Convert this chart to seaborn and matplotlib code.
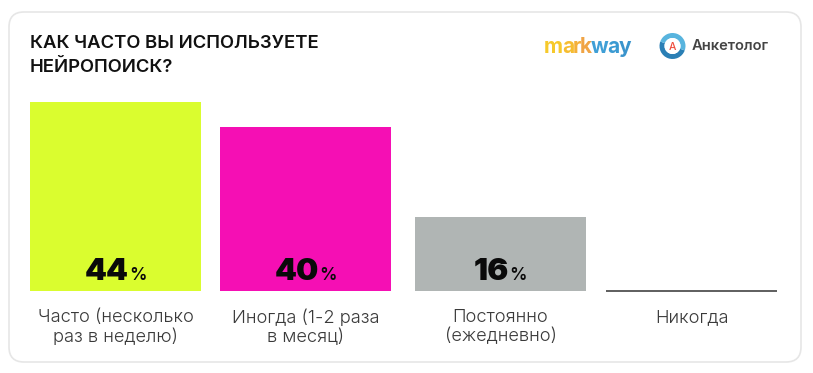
import matplotlib
matplotlib.use('Agg')
import matplotlib.pyplot as plt
import pandas as pd
import seaborn as sns
from matplotlib.patches import Circle, FancyBboxPatch, Wedge

categories = ['Часто (несколько\nраз в неделю)', 'Иногда (1-2 раза\nв месяц)',
              'Постоянно\n(ежедневно)', 'Никогда']
# heights as drawn in the picture, they do not follow the printed numbers exactly
bar_heights = [44, 38.2, 17.3, 0]
labels = ['44', '40', '16', '']
colors = ['#dafd2f', '#f50fb4', '#b0b5b4', '#ffffff']
title = 'КАК ЧАСТО ВЫ ИСПОЛЬЗУЕТЕ\nНЕЙРОПОИСК?'
logo_letters = ['m', 'a', 'r', 'k', 'w', 'a', 'y']
logo_colors = ['#f6c92b', '#f6bd31', '#f4b03a', '#f0a445', '#3f9fd6', '#3a9ad2', '#3a94cc']

W, H = 813, 373
FONT = 'Inter'

sns.set_style('white')
plt.rcParams['font.family'] = [FONT, 'DejaVu Sans']

df = pd.DataFrame({'category': categories, 'height': bar_heights})

fig = plt.figure(figsize=(W / 100, H / 100), dpi=100)
fig.patch.set_facecolor('white')

# bottom layer with the card
under = fig.add_axes([0, 0, 1, 1], zorder=0)
under.set_xlim(0, W)
under.set_ylim(H, 0)
under.axis('off')
under.add_patch(FancyBboxPatch((9, 12), 792, 350, boxstyle='round,pad=0,rounding_size=15',
                               facecolor='white', edgecolor='#e6e6e6', linewidth=1.2))

# chart axes: 4 slots of 192 px, baseline at y=291, 4.295 px per unit
ax = fig.add_axes([19.5 / W, (H - 291) / H, 768 / W, 215 / H], zorder=1)
ax.patch.set_alpha(0)
sns.barplot(data=df, x='category', y='height', hue='category', palette=colors,
            legend=False, width=171 / 192, saturation=1, linewidth=0, ax=ax)
ax.set_xlim(-0.5, 3.5)
ax.set_ylim(0, 215 / 4.295)
ax.set_xlabel('')
ax.set_ylabel('')
ax.set_yticks([])
sns.despine(ax=ax, left=True, bottom=True)
ax.tick_params(axis='x', length=0, pad=13)
ax.set_xticks(range(len(categories)))
ax.set_xticklabels(categories, fontsize=13.2, fontweight=300, color='#3a3a3a', linespacing=1.15)

# the slots in the source are a little uneven
nudges = [0, -2, 1, 0]
for patch, tick, nudge in zip(ax.patches, ax.get_xticklabels(), nudges):
    patch.set_x(patch.get_x() + nudge / 192)
    tick.set_transform(tick.get_transform() + matplotlib.transforms.ScaledTranslation(nudge / 100, 0, fig.dpi_scale_trans))

# "Никогда" has no bar, just a thin line on the baseline
ax.patches[3].set_edgecolor('#333333')
ax.patches[3].set_linewidth(1.1)
ax.patches[3].set_clip_on(False)

# top layer in pixels, for the title, the numbers and the logos
bg = fig.add_axes([0, 0, 1, 1], zorder=2)
bg.set_xlim(0, W)
bg.set_ylim(H, 0)
bg.axis('off')
bg.text(30, 55.5, title, fontsize=13.3, fontweight=600, color='#111111',
        va='center', ha='left', linespacing=1.55)

fig.canvas.draw()
renderer = fig.canvas.get_renderer()
for patch, label in zip(ax.patches, labels):
    if not label:
        continue
    cx = (patch.get_x() + patch.get_width() / 2 + 0.5) * 192 + 19.5
    num = bg.text(cx, 280, label, fontsize=22.5, fontweight=900, color='#0a0a0a',
                  ha='left', va='baseline')
    pct = bg.text(cx, 280, '%', fontsize=12.5, fontweight=600, color='#0a0a0a',
                  ha='left', va='baseline')
    w_num = num.get_window_extent(renderer).width
    w_pct = pct.get_window_extent(renderer).width
    left = cx - (w_num + w_pct) / 2
    num.set_x(left)
    pct.set_x(left + w_num)

# markway logo, one letter at a time
x = 544
for letter, color in zip(logo_letters, logo_colors):
    t = bg.text(x, 53, letter, fontsize=15, fontweight=700, color=color, ha='left', va='baseline')
    x += t.get_window_extent(renderer).width - 1.2

# Анкетолог logo
bg.add_patch(Wedge((672.5, 46), 13, 20, 200, width=5, facecolor='#2a7fb5', edgecolor='none'))
bg.add_patch(Wedge((672.5, 46), 13, 200, 380, width=5, facecolor='#58b4de', edgecolor='none'))
bg.add_patch(Circle((672.5, 46), 8, facecolor='white', edgecolor='none'))
bg.text(672.5, 46.5, 'А', fontsize=7.5, fontweight=500, color='#ef4b3a', ha='center', va='center')
bg.text(692, 46.5, 'Анкетолог', fontsize=10.6, fontweight=600, color='#444444', ha='left', va='center')

fig.savefig('out.png', dpi=100, facecolor='white')
